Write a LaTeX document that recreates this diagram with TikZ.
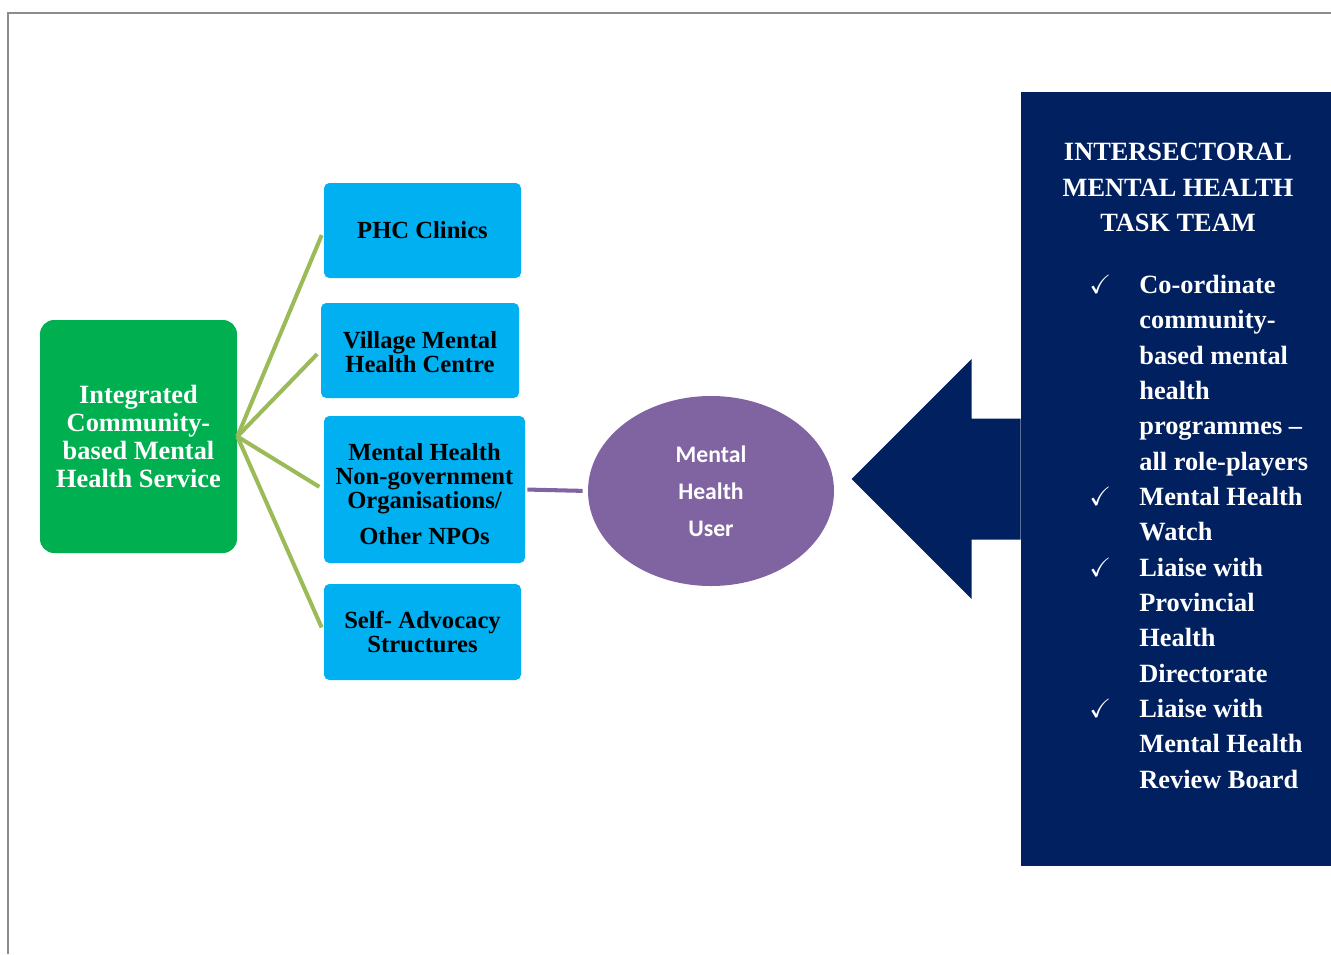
\documentclass[tikz,border=0pt]{standalone}
\usepackage{fontspec}
\usepackage{amssymb}
\setmainfont{Liberation Serif}
\newfontfamily\calibri{Carlito}
\usetikzlibrary{positioning, calc, shapes.geometric}

\begin{document}
\begin{tikzpicture}[
  font=\rmfamily\bfseries,
  sideBox/.style={fill=cSky, rounded corners=3pt, minimum width=3.94cm,
    minimum height=1.9cm, align=center, inner sep=0pt,
    font=\rmfamily\bfseries\fontsize{14}{13.7}\selectfont},
  branch/.style={draw=cLime, line width=2.3pt, shorten >=0.1cm},
  teamText/.style={text=white, inner sep=0pt,
    font=\rmfamily\bfseries\fontsize{15}{20.1}\selectfont},
]
\definecolor{cGreen}{HTML}{00B050}   % service box
\definecolor{cSky}{HTML}{00B0F0}     % side boxes
\definecolor{cLime}{HTML}{9BBB59}    % branch lines
\definecolor{cPurple}{HTML}{8064A2}  % user ellipse
\definecolor{cNavy}{HTML}{002060}    % task team
\definecolor{cFrame}{HTML}{8C8C8C}

\useasboundingbox (0,0) rectangle (26.62,-19.08);

% ---------- page frame ----------
\draw[cFrame, line width=1.3pt] (0.16,-19.08) -- (0.16,-0.26) -- (26.62,-0.26);

% ---------- service box ----------
\node[fill=cGreen, rounded corners=8pt, minimum width=3.94cm, minimum height=4.66cm,
      align=center, inner sep=0pt, text=white,
      font=\rmfamily\bfseries\fontsize{15}{15.9}\selectfont] (serviceBox) at (2.77,-8.73)
  {Integrated\\Community-\\based Mental\\Health Service};

% ---------- side boxes ----------
\node[sideBox] (phcBox) at (8.45,-4.61) {PHC Clinics};
\node[sideBox, minimum width=3.96cm] (villageBox) at (8.40,-7.01)
  {\rule{0pt}{0.42cm}Village Mental\\Health Centre};
\node[sideBox, minimum width=4.02cm, minimum height=2.94cm] (ngoBox) at (8.49,-9.79)
  {\rule{0pt}{0.52cm}Mental Health\\Non-government\\Organisations/\\[0.22cm]Other NPOs};
\node[sideBox, minimum height=1.92cm] (advocacyBox) at (8.45,-12.64)
  {Self- Advocacy\\Structures};

\draw[branch] (serviceBox.east) -- (phcBox.west);
\draw[branch] (serviceBox.east) -- (villageBox.west);
\draw[branch] (serviceBox.east) -- (ngoBox.west);
\draw[branch] (serviceBox.east) -- (advocacyBox.west);

% ---------- user ellipse ----------
\node[ellipse, fill=cPurple, minimum width=4.92cm, minimum height=3.8cm,
      inner sep=0pt, align=center, text=white,
      font=\calibri\bfseries\fontsize{13.5}{21}\selectfont] (userNode) at (14.22,-9.82)
  {Mental\\Health\\User};
\draw[cPurple, line width=2.3pt, shorten <=0.04cm, shorten >=0.1cm]
  (ngoBox.east) -- (userNode.west);

% ---------- task team ----------
\node[fill=cNavy, minimum width=6.2cm, minimum height=15.48cm, inner sep=0pt]
  (teamBox) at (23.52,-9.58) {};
\fill[cNavy] (teamBox.west) ++(0,1.21) -- ++(-0.98,0) -- ++(0,1.19)
  -- ++(-2.4,-2.4) -- ++(2.4,-2.4) -- ++(0,1.19) -- ++(0.98,0) -- cycle;

\node[teamText, align=center, anchor=north] (teamTitle) at (23.56,-2.86)
  {INTERSECTORAL\\MENTAL HEALTH\\TASK TEAM};
\node[teamText, align=left, anchor=north west] (teamDuties) at (22.78,-5.5)
  {\llap{\checkmark\hspace{0.56cm}}Co-ordinate\\
   community-\\
   based mental\\
   health\\
   programmes --\\
   all role-players\\
   \llap{\checkmark\hspace{0.56cm}}Mental Health\\
   Watch\\
   \llap{\checkmark\hspace{0.56cm}}Liaise with\\
   Provincial\\
   Health\\
   Directorate\\
   \llap{\checkmark\hspace{0.56cm}}Liaise with\\
   Mental Health\\
   Review Board};

\end{tikzpicture}
\end{document}
